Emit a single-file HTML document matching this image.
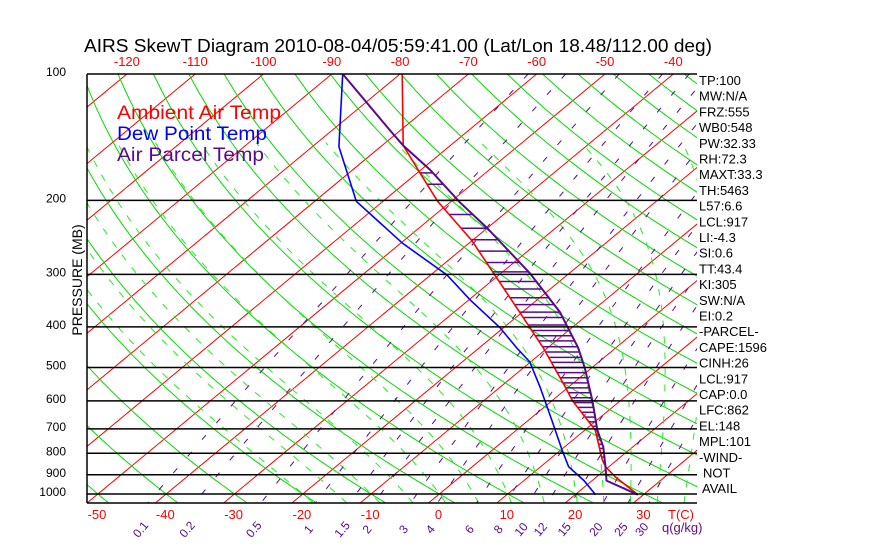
<!DOCTYPE html>
<html><head><meta charset="utf-8"><title>AIRS SkewT Diagram</title>
<style>
html,body{margin:0;padding:0;background:#fff;}
svg{display:block;font-family:"Liberation Sans",sans-serif;}
</style></head>
<body>
<svg id="chart" width="870" height="560" viewBox="0 0 870 560" xmlns="http://www.w3.org/2000/svg">
  <defs><clipPath id="plotclip"><rect x="87" y="74" width="610" height="429"/></clipPath></defs>
  <rect x="0" y="0" width="870" height="560" fill="#fff"/>
  <text x="84" y="52" font-size="18" textLength="628" lengthAdjust="spacingAndGlyphs" fill="#000">AIRS SkewT Diagram 2010-08-04/05:59:41.00 (Lat/Lon 18.48/112.00 deg)</text>
  <g id="grid" clip-path="url(#plotclip)"></g>
  <g id="series" clip-path="url(#plotclip)"></g>
  <g id="axes"></g>
  <text x="117" y="119" font-size="19" textLength="164" lengthAdjust="spacingAndGlyphs" fill="#ff0000">Ambient Air Temp</text>
  <text x="117" y="140" font-size="19" textLength="150" lengthAdjust="spacingAndGlyphs" fill="#0000ff">Dew Point Temp</text>
  <text x="117" y="161" font-size="19" textLength="147" lengthAdjust="spacingAndGlyphs" fill="#5a0a8c">Air Parcel Temp</text>
  <text transform="translate(82,280) rotate(-90)" text-anchor="middle" font-size="14" fill="#000">PRESSURE (MB)</text>
  <g id="stats" font-size="13" fill="#000"></g>
</svg>
<script>
// ---- data ----
const isobarLevels = [100,200,300,400,500,600,700,800,900,1000];
const topTempTicks = [-120,-110,-100,-90,-80,-70,-60,-50,-40];
const bottomTempTicks = [-50,-40,-30,-20,-10,0,10,20,30];
const isotherms = [-150,-140,-130,-120,-110,-100,-90,-80,-70,-60,-50,-40,-30,-20,-10,0,10,20,30,40,50];
const dryAdiabatThetaC = [-50,-40,-30,-20,-10,0,10,20,30,40,50,60,70,80,90,100,110,120,130,140,150,160,170,180,190,200];
const moistStartC = [-20,-15,-10,-5,0,5,10,15,20,24,28,32,36,40];
const mixingRatios = [0.1,0.2,0.5,1,1.5,2,3,4,6,8,10,12,15,20,25,30];
const mixingLabels = ["0.1","0.2","0.5","1","1.5","2","3","4","6","8","10","12","15","20","25","30"];
const ambientP = [100,148,172,201,249,301,369,449,556,601,704,829,861,910,1004];
const ambientT = [-79.7,-66.9,-59.6,-52.0,-40.1,-30.6,-20.4,-10.6,-0.5,3.1,11.5,17.8,19.5,22.7,29.2];
const dewP = [100,149,201,253,301,345,402,449,485,556,667,786,861,929,1004];
const dewT = [-88.4,-76.1,-63.9,-49.7,-37.6,-29.8,-20.5,-14.5,-10.1,-4.2,3.4,10.2,14.1,18.8,23.0];
const parcelP = [100,136,148,169,202,232,298,369,449,501,601,704,773,861,929,1004];
const parcelT = [-88.4,-71.6,-66.9,-58.7,-48.6,-40.2,-25.8,-14.5,-5.5,-1.0,6.0,11.8,15.7,19.5,22.1,29.2];
const hatchP = [172,183,200,216,233,248,264,281,296,312,325,341,354,369,380,396,408,420,432,446,459,473,486,500,514,529,544,559,574,590,606,622,639,656,673,690,707,725,743,761,779,798,817,836,855];
const statsLines = ["TP:100","MW:N/A","FRZ:555","WB0:548","PW:32.33","RH:72.3","MAXT:33.3","TH:5463","L57:6.6","LCL:917","LI:-4.3","SI:0.6","TT:43.4","KI:305","SW:N/A","EI:0.2","-PARCEL-","CAPE:1596","CINH:26","LCL:917","CAP:0.0","LFC:862","EL:148","MPL:101","-WIND-","NOT","AVAIL"];

// ---- axis functions ----
const NS="http://www.w3.org/2000/svg";
const X0=87, X1=697, Y0=74, YB=503;
function yP(p){ return 74 + 182.4*Math.log(p/100); }
function xTP(T,p){ return 428.5 + 6.83*T + 1.2075*(YB - yP(p)); }
function mk(tag, attrs, parent){ const e=document.createElementNS(NS,tag); for(const k in attrs) e.setAttribute(k,attrs[k]); parent.appendChild(e); return e; }
const grid=document.getElementById('grid'), series=document.getElementById('series'), axes=document.getElementById('axes'), stats=document.getElementById('stats');
const PBOT = 100*Math.exp((YB-74)/182.4);
function presList(pt, pb, step){ const a=[]; for(let p=pt;p<pb;p+=step) a.push(p); a.push(pb); return a; }
function pts(arrP, arrT){ return arrP.map((p,i)=>xTP(arrT[i],p).toFixed(1)+','+yP(p).toFixed(1)).join(' '); }

// isotherms
isotherms.forEach(T=>{
  const l=mk('line',{x1:xTP(T,PBOT),y1:YB,x2:xTP(T,100),y2:Y0,stroke:'#ff0000','stroke-width':1},grid);
  
  
});
// dry adiabats
const plist=presList(100,PBOT,10);
dryAdiabatThetaC.forEach(th=>{
  const tk=th+273.15;
  const s=plist.map(p=>xTP(tk*Math.pow(p/1000,0.2857)-273.15,p).toFixed(1)+','+yP(p).toFixed(1)).join(' ');
  const l=mk('polyline',{points:s,fill:'none',stroke:'#00dd00','stroke-width':1},grid);
  
  
});
// moist adiabats
function es(tc){ return 6.112*Math.exp(17.67*tc/(tc+243.5)); }
moistStartC.forEach(t0=>{
  let T=t0+273.15, p=1000; const arr=[];
  const step=(dp)=>{ const tc=T-273.15; const e=es(tc); const rs=0.622*e/(p-e);
    const num=287*T+2.5e6*rs; const den=1004+2.5e6*2.5e6*rs*0.622/(287*T*T);
    T+= (num/den)/p*dp; p+=dp; };
  while(p<PBOT){ step(Math.min(5,PBOT-p)); }
  arr.push(xTP(T-273.15,p).toFixed(1)+','+yP(p).toFixed(1));
  while(p>150){ step(-5); arr.push(xTP(T-273.15,p).toFixed(1)+','+yP(p).toFixed(1)); }
  const l=mk('polyline',{points:arr.join(' '),fill:'none',stroke:'#22ee22','stroke-width':1,'stroke-dasharray':'7 9'},grid);
  
  
});
// mixing ratio lines
function tdFromW(w,p){ const e=w*p/(622+w); const g=Math.log(e/6.112); return 243.5*g/(17.67-g); }
mixingRatios.forEach((w,i)=>{
  const pl=presList(100,PBOT,20);
  const s=pl.map(p=>xTP(tdFromW(w,p),p).toFixed(1)+','+yP(p).toFixed(1)).join(' ');
  const l=mk('polyline',{points:s,fill:'none',stroke:'#5a0a8c','stroke-width':1,'stroke-dasharray':'6 16'},grid);
  
  
  const xb=xTP(tdFromW(w,PBOT),PBOT)-4;
  const t=mk('text',{transform:`translate(${xb.toFixed(1)},532) rotate(-50)`,'font-size':12,fill:'#5a0a8c','text-anchor':'middle'},axes);
  t.textContent=mixingLabels[i];
  
  
});
// isobars
isobarLevels.forEach(p=>{
  const l=mk('line',{x1:X0,y1:yP(p),x2:X1,y2:yP(p),stroke:'#000','stroke-width':1.5},axes);
  
  
  const t=mk('text',{x:66,y:(yP(p)+2).toFixed(1),'font-size':12,'text-anchor':'end',fill:'#000'},axes);
  t.textContent=String(p);
  
  
});
const bx=mk('line',{x1:X0,y1:YB,x2:X1,y2:YB,stroke:'#000','stroke-width':1.5},axes);


const lx=mk('line',{x1:X0,y1:Y0,x2:X0,y2:YB,stroke:'#000','stroke-width':1.5},axes);


topTempTicks.forEach(T=>{
  const t=mk('text',{x:xTP(T,100).toFixed(1),y:66,'font-size':13,'text-anchor':'middle',fill:'#ff0000'},axes);
  t.textContent=String(T);
  
  
});
bottomTempTicks.forEach(T=>{
  const t=mk('text',{x:(xTP(T,PBOT)+10).toFixed(1),y:519,'font-size':13,'text-anchor':'middle',fill:'#ff0000'},axes);
  t.textContent=String(T);
  
  
});
const tc=mk('text',{x:681,y:519,'font-size':13,'text-anchor':'middle',fill:'#ff0000'},axes);
tc.textContent='T(C)';


const wu=mk('text',{x:662,y:532,'font-size':13,fill:'#5a0a8c'},axes);
wu.textContent='q(g/kg)';



// hatching (CAPE)
function interp(arrP,arrT,p){ for(let i=0;i<arrP.length-1;i++){ if(p>=arrP[i]&&p<=arrP[i+1]){ const f=(Math.log(p)-Math.log(arrP[i]))/(Math.log(arrP[i+1])-Math.log(arrP[i])); return arrT[i]+f*(arrT[i+1]-arrT[i]); } } return null; }
hatchP.forEach(p=>{
  const te=interp(ambientP,ambientT,p), tp=interp(parcelP,parcelT,p);
  if(te===null||tp===null||tp<=te) return;
  const l=mk('line',{x1:xTP(te,p).toFixed(1),y1:yP(p).toFixed(1),x2:xTP(tp,p).toFixed(1),y2:yP(p).toFixed(1),stroke:'#5a0a8c','stroke-width':1.5},series);
  
  
});
// profiles
const amb=mk('polyline',{points:pts(ambientP,ambientT),fill:'none',stroke:'#ff0000','stroke-width':1.6},series);


const dew=mk('polyline',{points:pts(dewP,dewT),fill:'none',stroke:'#0000ff','stroke-width':1.6},series);


const par=mk('polyline',{points:pts(parcelP,parcelT),fill:'none',stroke:'#5a0a8c','stroke-width':2},series);



// stats panel
statsLines.forEach((s,i)=>{
  const t=mk('text',{x:(s==='NOT'?703:(s==='AVAIL'?702:699)),y:(85+i*15.7).toFixed(1)},stats);
  t.textContent=s;
  
  
});
</script>
</body></html>
